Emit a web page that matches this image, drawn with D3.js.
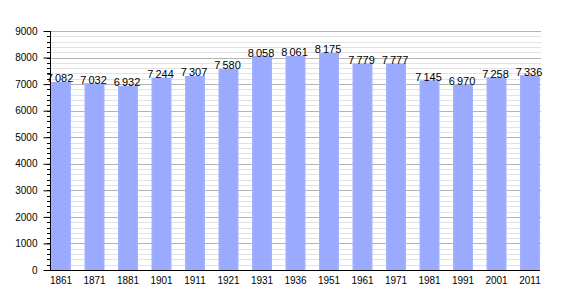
<!DOCTYPE html>
<html>
<head>
<meta charset="utf-8">
<script src="https://cdn.jsdelivr.net/npm/d3@7"></script>
<style>
  body { margin: 0; background: #fff; }
  svg { display: block; font-family: "Liberation Sans", Arial, sans-serif; }
</style>
</head>
<body>
<script>
// census years and population
const years = ['1861', '1871', '1881', '1901', '1911', '1921', '1931', '1936', '1951', '1961', '1971', '1981', '1991', '2001', '2011'];
const population = [7082, 7032, 6932, 7244, 7307, 7580, 8058, 8061, 8175, 7779, 7777, 7145, 6970, 7258, 7336];
const yTicks = [0, 1000, 2000, 3000, 4000, 5000, 6000, 7000, 8000, 9000];
const yMinor = d3.range(0, 9001, 200);

const width = 570, height = 300;
const plotLeft = 50, plotRight = 540, plotTop = 31, plotBottom = 270;

const svg = d3.select('body').append('svg')
  .attr('width', width).attr('height', height);

const x = d3.scaleBand().domain(years).range([plotLeft + 1, plotRight])
  .paddingInner(13.5 / 33.5).paddingOuter(0);
const y = d3.scaleLinear().domain([0, 9000]).range([plotBottom, plotTop]);

// grid lines
svg.append('g').selectAll('line').data(yMinor.filter(d => d % 1000 !== 0)).join('line')
  .attr('x1', plotLeft).attr('x2', plotRight + 1)
  .attr('y1', d => Math.round(y(d)) + 0.5).attr('y2', d => Math.round(y(d)) + 0.5)
  .attr('stroke', '#e2e2e2');
svg.append('g').selectAll('line').data(yTicks.slice(1)).join('line')
  .attr('x1', plotLeft).attr('x2', plotRight + 1)
  .attr('y1', d => Math.round(y(d)) + 0.5).attr('y2', d => Math.round(y(d)) + 0.5)
  .attr('stroke', '#b4b4b4');

// bars
const grad = svg.append('defs').append('linearGradient').attr('id', 'bar')
  .attr('x1', 0).attr('x2', 1).attr('y1', 0).attr('y2', 0);
grad.append('stop').attr('offset', 0).attr('stop-color', '#a3b2ff');
grad.append('stop').attr('offset', 0.12).attr('stop-color', '#99aaff');
grad.append('stop').attr('offset', 0.88).attr('stop-color', '#99aaff');
grad.append('stop').attr('offset', 1).attr('stop-color', '#a3b2ff');

svg.append('g').selectAll('rect').data(population).join('rect')
  .attr('x', (d, i) => x(years[i]))
  .attr('width', x.bandwidth())
  .attr('y', d => y(d))
  .attr('height', d => plotBottom - y(d))
  .attr('fill', 'url(#bar)');

// value labels
const fmt = d3.formatLocale({ thousands: '\u202f', grouping: [3], decimal: ',', currency: ['', ''] }).format(',');
svg.append('g').selectAll('text').data(population).join('text')
  .attr('x', (d, i) => x(years[i]) + x.bandwidth() / 2 - 1)
  .attr('y', d => y(d) + 0.5)
  .attr('text-anchor', 'middle')
  .attr('font-size', 11)
  .attr('fill', '#000')
  .text(d => fmt(d));

// y axis with minor ticks
svg.append('g').selectAll('line').data(yMinor).join('line')
  .attr('x1', plotLeft - 3).attr('x2', plotLeft)
  .attr('y1', d => Math.round(y(d)) + 0.5).attr('y2', d => Math.round(y(d)) + 0.5)
  .attr('stroke', '#000');
svg.append('g')
  .attr('transform', `translate(${plotLeft + 0.5},0)`)
  .call(d3.axisLeft(y).tickValues(yTicks).tickSize(7).tickPadding(6).tickFormat(d3.format('d')))
  .call(g => g.selectAll('text').attr('font-size', 10).attr('fill', '#000').attr('font-family', 'inherit'))
  .call(g => g.selectAll('line').attr('stroke', '#000'))
  .call(g => g.select('.domain').attr('stroke', '#000').attr('d', `M0,${plotTop}V${plotBottom}`));

// x axis
svg.append('g')
  .attr('transform', `translate(0,${plotBottom + 0.5})`)
  .call(d3.axisBottom(x).tickSize(0).tickPadding(6))
  .call(g => g.selectAll('text').attr('font-size', 10).attr('fill', '#000').attr('font-family', 'inherit'))
  .call(g => g.select('.domain').attr('stroke', '#000').attr('d', `M${plotLeft},0H${plotRight}`));
</script>
</body>
</html>
